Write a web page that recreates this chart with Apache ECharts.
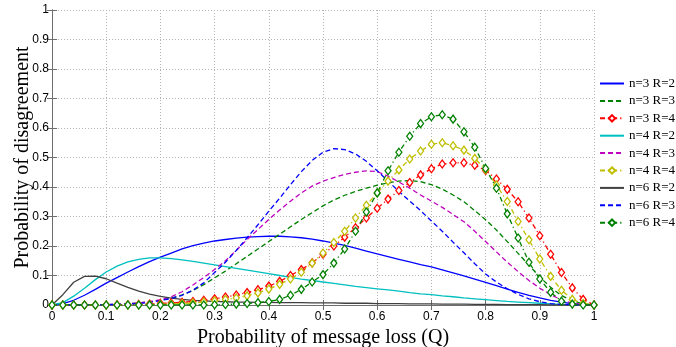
<!DOCTYPE html>
<html>
<head>
<meta charset="utf-8">
<script src="https://cdn.jsdelivr.net/npm/echarts@6/dist/echarts.min.js"></script>
<style>
  html, body { margin: 0; padding: 0; background: #fff; }
  #chart { width: 676px; height: 347px; }
</style>
</head>
<body>
<div id="chart"></div>
<script>
// Message-loss probability Q (0 to 1 in steps of 0.02)
const Q = [0, 0.02, 0.04, 0.06, 0.08, 0.1, 0.12, 0.14, 0.16, 0.18,
  0.2, 0.22, 0.24, 0.26, 0.28, 0.3, 0.32, 0.34, 0.36, 0.38,
  0.4, 0.42, 0.44, 0.46, 0.48, 0.5, 0.52, 0.54, 0.56, 0.58,
  0.6, 0.62, 0.64, 0.66, 0.68, 0.7, 0.72, 0.74, 0.76, 0.78,
  0.8, 0.82, 0.84, 0.86, 0.88, 0.9, 0.92, 0.94, 0.96, 0.98, 1];

// Probability of disagreement for each (n, R) configuration
const n3R2 = [0, 0.005, 0.016, 0.033, 0.053, 0.074, 0.093, 0.112, 0.13, 0.147,
  0.162, 0.176, 0.19, 0.201, 0.21, 0.217, 0.222, 0.227, 0.23, 0.232,
  0.233, 0.233, 0.231, 0.228, 0.223, 0.217, 0.21, 0.202, 0.193, 0.183,
  0.173, 0.164, 0.155, 0.146, 0.137, 0.129, 0.119, 0.109, 0.099, 0.088,
  0.077, 0.066, 0.054, 0.043, 0.033, 0.024, 0.016, 0.01, 0.005, 0.002, 0];

const n3R3 = [0, 0, 0, 0, 0, 0.001, 0.002, 0.004, 0.007, 0.011,
  0.016, 0.023, 0.034, 0.049, 0.069, 0.092, 0.115, 0.14, 0.165, 0.19,
  0.215, 0.24, 0.265, 0.29, 0.313, 0.336, 0.356, 0.372, 0.385, 0.396,
  0.406, 0.414, 0.42, 0.422, 0.418, 0.408, 0.393, 0.373, 0.35, 0.32,
  0.289, 0.254, 0.215, 0.175, 0.135, 0.095, 0.06, 0.032, 0.014, 0.004, 0];

const n3R4 = [0, 0, 0, 0, 0, 0, 0.001, 0.001, 0.002, 0.003,
  0.005, 0.007, 0.009, 0.012, 0.016, 0.021, 0.027, 0.034, 0.042, 0.052,
  0.064, 0.08, 0.1, 0.12, 0.143, 0.172, 0.2, 0.23, 0.262, 0.295,
  0.328, 0.359, 0.388, 0.415, 0.441, 0.462, 0.478, 0.482, 0.482, 0.474,
  0.456, 0.427, 0.392, 0.35, 0.295, 0.235, 0.172, 0.11, 0.058, 0.019, 0];

const n4R2 = [0, 0.008, 0.03, 0.057, 0.086, 0.112, 0.132, 0.146, 0.155, 0.16,
  0.16, 0.157, 0.153, 0.148, 0.142, 0.136, 0.13, 0.124, 0.118, 0.112,
  0.106, 0.1, 0.094, 0.088, 0.083, 0.078, 0.073, 0.068, 0.063, 0.059,
  0.055, 0.051, 0.047, 0.042, 0.038, 0.035, 0.031, 0.028, 0.024, 0.021,
  0.018, 0.015, 0.012, 0.01, 0.008, 0.006, 0.004, 0.002, 0.001, 0, 0];

const n4R3 = [0, 0, 0, 0, 0, 0.001, 0.002, 0.004, 0.007, 0.011,
  0.018, 0.028, 0.045, 0.068, 0.093, 0.12, 0.15, 0.185, 0.222, 0.256,
  0.29, 0.322, 0.352, 0.38, 0.403, 0.42, 0.432, 0.443, 0.45, 0.455,
  0.452, 0.437, 0.417, 0.396, 0.373, 0.352, 0.331, 0.307, 0.282, 0.25,
  0.215, 0.18, 0.145, 0.113, 0.083, 0.057, 0.035, 0.017, 0.006, 0.001, 0];

const n4R4 = [0, 0, 0, 0, 0, 0, 0, 0, 0, 0.001,
  0.002, 0.003, 0.005, 0.007, 0.01, 0.014, 0.019, 0.024, 0.031, 0.041,
  0.054, 0.07, 0.088, 0.111, 0.142, 0.176, 0.212, 0.25, 0.295, 0.338,
  0.38, 0.42, 0.458, 0.495, 0.522, 0.545, 0.55, 0.54, 0.525, 0.497,
  0.459, 0.407, 0.351, 0.283, 0.221, 0.156, 0.097, 0.05, 0.019, 0.005, 0];

const n6R2 = [0, 0.035, 0.077, 0.097, 0.098, 0.089, 0.074, 0.06, 0.047, 0.037,
  0.029, 0.023, 0.019, 0.016, 0.014, 0.012, 0.011, 0.01, 0.01, 0.009,
  0.009, 0.008, 0.008, 0.008, 0.007, 0.007, 0.007, 0.006, 0.006, 0.006,
  0.005, 0.005, 0.005, 0.004, 0.004, 0.004, 0.003, 0.003, 0.003, 0.002,
  0.002, 0.002, 0.001, 0.001, 0.001, 0.001, 0, 0, 0, 0, 0];

const n6R3 = [0, 0, 0, 0, 0, 0.001, 0.002, 0.003, 0.005, 0.009,
  0.015, 0.022, 0.033, 0.05, 0.075, 0.11, 0.145, 0.185, 0.228, 0.272,
  0.318, 0.362, 0.408, 0.452, 0.49, 0.518, 0.53, 0.527, 0.512, 0.487,
  0.455, 0.42, 0.385, 0.352, 0.32, 0.285, 0.25, 0.213, 0.177, 0.14,
  0.105, 0.078, 0.055, 0.036, 0.021, 0.011, 0.005, 0.002, 0.001, 0, 0];

const n6R4 = [0, 0, 0, 0, 0, 0, 0, 0, 0, 0,
  0, 0, 0, 0, 0, 0.001, 0.002, 0.003, 0.005, 0.008,
  0.012, 0.019, 0.033, 0.053, 0.078, 0.103, 0.142, 0.19, 0.25, 0.315,
  0.38, 0.455, 0.518, 0.572, 0.615, 0.638, 0.645, 0.63, 0.587, 0.535,
  0.463, 0.396, 0.309, 0.227, 0.145, 0.088, 0.043, 0.013, 0.003, 0, 0];

// Axis tick labels (both axes run 0..1 in steps of 0.1)
const tickLabels = ['0', '0.1', '0.2', '0.3', '0.4', '0.5', '0.6', '0.7', '0.8', '0.9', '1'];

const seriesNames = ['n=3 R=2', 'n=3 R=3', 'n=3 R=4', 'n=4 R=2', 'n=4 R=3',
  'n=4 R=4', 'n=6 R=2', 'n=6 R=3', 'n=6 R=4'];
const seriesValues = [n3R2, n3R3, n3R4, n4R2, n4R3, n4R4, n6R2, n6R3, n6R4];

const DASH = [5, 3];
const DASHDOT = [5, 3, 1.2, 3];
const styles = [
  { color: '#0000ff', type: 'solid', marker: false },
  { color: '#008000', type: DASH, marker: false },
  { color: '#ff0000', type: DASHDOT, marker: true },
  { color: '#00bfbf', type: 'solid', marker: false },
  { color: '#bf00bf', type: DASH, marker: false },
  { color: '#bfbf00', type: DASHDOT, marker: true },
  { color: '#404040', type: 'solid', marker: false },
  { color: '#0000ff', type: DASH, marker: false },
  { color: '#008000', type: DASHDOT, marker: true }
];

const series = seriesNames.map((name, i) => {
  const st = styles[i];
  return {
    name: name,
    type: 'line',
    xAxisIndex: 0,
    yAxisIndex: 0,
    data: Q.map((q, k) => [q, seriesValues[i][k]]),
    symbol: 'diamond',
    symbolSize: [6, 8],
    showSymbol: st.marker,
    animation: false,
    lineStyle: { color: st.color, width: 1.3, type: st.type },
    // plain lines keep an invisible symbol so their legend entry is just the line
    itemStyle: st.marker
      ? { color: '#ffffff', borderColor: st.color, borderWidth: 1.3 }
      : { color: 'rgba(0,0,0,0)', borderColor: 'rgba(0,0,0,0)', borderWidth: 0 },
    emphasis: { disabled: true }
  };
});

const tickFmt = v => tickLabels[Math.round(v * 10)];
const frameColor = '#6e6e6e';
const labelFont = { fontFamily: 'Liberation Sans', fontSize: 12, color: '#000' };
const titleFont = { fontFamily: 'Liberation Serif', fontSize: 20, color: '#000' };

const baseAxis = {
  type: 'value', min: 0, max: 1, interval: 0.1,
  axisLine: { show: true, lineStyle: { color: frameColor, width: 1 } },
  axisTick: { show: true, inside: true, length: 5, lineStyle: { color: frameColor } }
};

const option = {
  backgroundColor: '#ffffff',
  animation: false,
  grid: { left: 52, top: 10, right: 82, bottom: 42, containLabel: false, outerBoundsMode: 'none' },
  legend: {
    orient: 'vertical',
    left: 599,
    top: 77,
    padding: 0,
    itemWidth: 24,
    itemHeight: 8,
    itemGap: 4.4,
    data: seriesNames,
    textStyle: { fontFamily: 'Liberation Serif', fontSize: 13, color: '#000' },
    selectedMode: false
  },
  xAxis: [
    Object.assign({}, baseAxis, {
      position: 'bottom',
      name: 'Probability of message loss (Q)',
      nameLocation: 'middle',
      nameGap: 23,
      nameMoveOverlap: false,
      nameTextStyle: titleFont,
      axisLabel: Object.assign({ margin: 6, formatter: tickFmt }, labelFont),
      splitLine: { show: true, lineStyle: { color: '#b4b4b4', type: [1, 2], width: 1 } }
    }),
    Object.assign({}, baseAxis, {
      position: 'top',
      axisLabel: { show: false },
      splitLine: { show: false }
    })
  ],
  yAxis: [
    Object.assign({}, baseAxis, {
      position: 'left',
      name: 'Probability of disagreement',
      nameLocation: 'middle',
      nameGap: 19,
      nameMoveOverlap: false,
      nameTextStyle: titleFont,
      axisLabel: Object.assign({ margin: 3, formatter: tickFmt }, labelFont),
      splitLine: { show: true, lineStyle: { color: '#b4b4b4', type: [1, 2], width: 1 } }
    }),
    Object.assign({}, baseAxis, {
      position: 'right',
      axisLabel: { show: false },
      splitLine: { show: false }
    })
  ],
  series: series
};

const chart = echarts.init(document.getElementById('chart'), null, { renderer: 'canvas' });
chart.setOption(option);
</script>
</body>
</html>
